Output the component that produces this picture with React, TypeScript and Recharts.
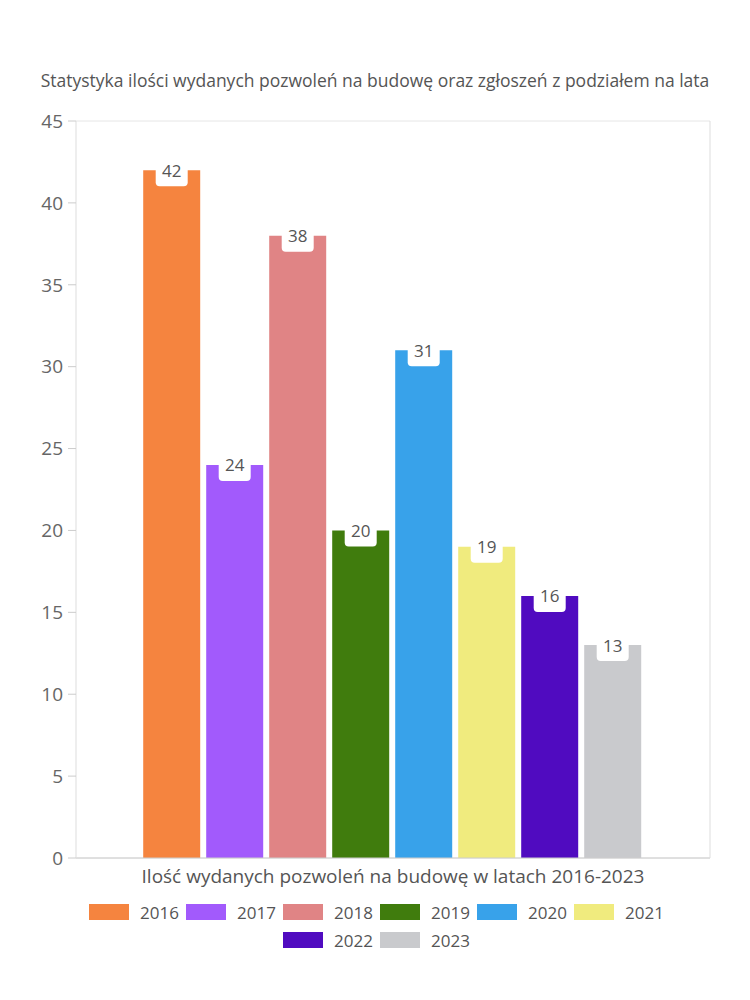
import React from 'react';
import { BarChart, Bar, XAxis, YAxis, CartesianGrid } from 'recharts';

const years = ['2016', '2017', '2018', '2019', '2020', '2021', '2022', '2023'];
const permits = [42, 24, 38, 20, 31, 19, 16, 13];
const colors = ['#F5843F', '#A25AFC', '#E08485', '#407C0D', '#38A2EA', '#F0EB7E', '#500BC0', '#C9CACD'];
const category = 'Ilość wydanych pozwoleń na budowę w latach 2016-2023';
const yTicks = [0, 5, 10, 15, 20, 25, 30, 35, 40, 45];

const data = [
  years.reduce<Record<string, string | number>>(
    (row, year, i) => {
      row[year] = permits[i];
      return row;
    },
    { name: category }
  ),
];

const font = '"Open Sans", sans-serif';

function ValueLabel(props: any) {
  const { x, y, width, value } = props;
  const cx = x + width / 2;
  return (
    <g>
      <rect x={cx - 16} y={y - 16} width={32} height={32} rx={4} fill="#fff" />
      <text x={cx} y={y} textAnchor="middle" dominantBaseline="central" fontSize={17} fill="#555" fontFamily={font}>
        {value}
      </text>
    </g>
  );
}

export default function App() {
  return (
    <div style={{ position: 'absolute', left: 0, top: 0, width: 750, height: 1000, background: '#fff', fontFamily: font }}>
      <div style={{ position: 'absolute', top: 68, left: 0, width: 750, textAlign: 'center', fontSize: 17.5, color: '#555' }}>
        Statystyka ilości wydanych pozwoleń na budowę oraz zgłoszeń z podziałem na lata
      </div>
      <BarChart
        width={750}
        height={1000}
        data={data}
        margin={{ top: 121, right: 39, left: 16, bottom: 112 }}
        barCategoryGap="10.6%"
        barGap={6}
      >
        <CartesianGrid vertical={false} stroke="#e6e6e6" />
        <XAxis
          dataKey="name"
          tickLine={false}
          axisLine={{ stroke: '#ccc' }}
          tick={{ fontSize: 19, fill: '#555', fontFamily: font }}
          tickMargin={6}
          height={30}
        />
        <YAxis
          yAxisId="left"
          domain={[0, 45]}
          ticks={yTicks}
          interval={0}
          width={60}
          tickSize={8}
          tickMargin={5}
          tickLine={{ stroke: '#ccc' }}
          axisLine={{ stroke: '#ddd' }}
          tick={{ fontSize: 19, fill: '#666', fontFamily: font }}
        />
        <YAxis
          yAxisId="right"
          orientation="right"
          domain={[0, 45]}
          width={1}
          tick={false}
          tickLine={false}
          axisLine={{ stroke: '#ddd' }}
        />
        {years.map((year, i) => (
          <Bar
            key={year}
            yAxisId="left"
            dataKey={year}
            fill={colors[i]}
            isAnimationActive={false}
            label={<ValueLabel />}
          />
        ))}
      </BarChart>
      <div
        style={{
          position: 'absolute',
          top: 902,
          left: 80,
          width: 600,
          display: 'flex',
          flexWrap: 'wrap',
          justifyContent: 'center',
          rowGap: 8,
          fontSize: 17,
          color: '#555',
        }}
      >
        {years.map((year, i) => (
          <div key={year} style={{ display: 'flex', alignItems: 'center', width: 97, height: 20 }}>
            <span style={{ display: 'inline-block', width: 40, height: 16, background: colors[i], marginRight: 11 }} />
            <span>{year}</span>
          </div>
        ))}
      </div>
    </div>
  );
}
